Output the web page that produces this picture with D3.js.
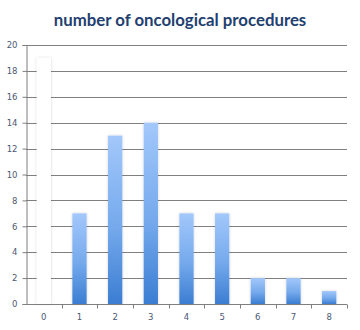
<!DOCTYPE html>
<html>
<head>
<meta charset="utf-8">
<script src="https://cdn.jsdelivr.net/npm/d3@7"></script>
<style>
  html, body { margin: 0; padding: 0; background: #fff; }
  svg { display: block; }
</style>
</head>
<body>
<script>
// Number of oncological procedures per patient (0–8) and how many patients had each count
const categories = ["0", "1", "2", "3", "4", "5", "6", "7", "8"];
const counts = [19, 7, 13, 14, 7, 7, 2, 2, 1];
const yTicks = [0, 2, 4, 6, 8, 10, 12, 14, 16, 18, 20];
const title = "number of oncological procedures";

const W = 360, H = 330;
const margin = { top: 45, right: 13, bottom: 26, left: 26 };

const svg = d3.select("body").append("svg")
  .attr("width", W).attr("height", H);

const defs = svg.append("defs");
const grad = defs.append("linearGradient")
  .attr("id", "barFill").attr("x1", 0).attr("y1", 0).attr("x2", 0).attr("y2", 1);
grad.append("stop").attr("offset", "0%").attr("stop-color", "#a3c8fb");
grad.append("stop").attr("offset", "55%").attr("stop-color", "#74a9ec");
grad.append("stop").attr("offset", "100%").attr("stop-color", "#3b7dd2");

// soft drop glow around each bar
const shadow = defs.append("filter").attr("id", "glow")
  .attr("x", "-40%").attr("y", "-10%").attr("width", "180%").attr("height", "120%");
shadow.append("feGaussianBlur").attr("in", "SourceAlpha").attr("stdDeviation", 1.6).attr("result", "b");
shadow.append("feComponentTransfer").attr("in", "b").attr("result", "s")
  .append("feFuncA").attr("type", "linear").attr("slope", 0.18);
const merge = shadow.append("feMerge");
merge.append("feMergeNode").attr("in", "s");
merge.append("feMergeNode").attr("in", "SourceGraphic");

const x = d3.scaleBand()
  .domain(categories)
  .range([margin.left, W - margin.right])
  .paddingInner(0.6).paddingOuter(0.3);

const y = d3.scaleLinear()
  .domain([0, 20])
  .range([H - margin.bottom, margin.top]);

// Title
svg.append("text")
  .attr("x", 180).attr("y", 26)
  .attr("text-anchor", "middle")
  .attr("font-family", "Lato, 'Open Sans', sans-serif")
  .attr("font-weight", "bold")
  .attr("font-size", 16.8)
  .attr("fill", "#22406f")
  .text(title);

// Horizontal gridlines
svg.append("g")
  .selectAll("line")
  .data(yTicks.filter(d => d > 0))
  .join("line")
  .attr("x1", margin.left).attr("x2", W - margin.right)
  .attr("y1", d => Math.round(y(d)) + 0.5).attr("y2", d => Math.round(y(d)) + 0.5)
  .attr("stroke", "#7f7f7f").attr("stroke-width", 1);

// Y axis
const yAxis = svg.append("g")
  .attr("transform", `translate(${margin.left + 0.5},0)`)
  .call(d3.axisLeft(y).tickValues(yTicks).tickSize(4).tickPadding(5));
yAxis.select(".domain").attr("stroke", "#7f7f7f");
yAxis.selectAll(".tick line").attr("stroke", "#7f7f7f");
yAxis.selectAll(".tick text")
  .attr("font-family", "'DejaVu Sans', sans-serif")
  .attr("font-size", 8.5)
  .attr("fill", "#4a5874");

// Bars
svg.append("g")
  .selectAll("rect")
  .data(counts)
  .join("rect")
  .attr("x", (d, i) => x(categories[i]))
  .attr("y", d => y(d))
  .attr("width", x.bandwidth())
  .attr("height", d => y(0) - y(d))
  .attr("fill", (d, i) => i === 0 ? "#ffffff" : "url(#barFill)")
  .attr("filter", "url(#glow)");

// X axis with ticks at category boundaries
const xBase = Math.round(y(0)) + 0.5;
const xg = svg.append("g");
xg.append("line")
  .attr("x1", margin.left).attr("x2", W - margin.right)
  .attr("y1", xBase).attr("y2", xBase)
  .attr("stroke", "#7f7f7f");
const boundary = i => Math.round(margin.left + i * (W - margin.right - margin.left) / categories.length) + 0.5;
xg.selectAll("line.tk")
  .data(d3.range(1, categories.length + 1))
  .join("line")
  .attr("class", "tk")
  .attr("x1", boundary).attr("x2", boundary)
  .attr("y1", xBase).attr("y2", xBase + 4)
  .attr("stroke", "#7f7f7f");
xg.selectAll("text")
  .data(categories)
  .join("text")
  .attr("x", d => x(d) + x.bandwidth() / 2)
  .attr("y", xBase + 15)
  .attr("text-anchor", "middle")
  .attr("font-family", "'DejaVu Sans', sans-serif")
  .attr("font-size", 8.5)
  .attr("fill", "#4a5874")
  .text(d => d);
</script>
</body>
</html>
